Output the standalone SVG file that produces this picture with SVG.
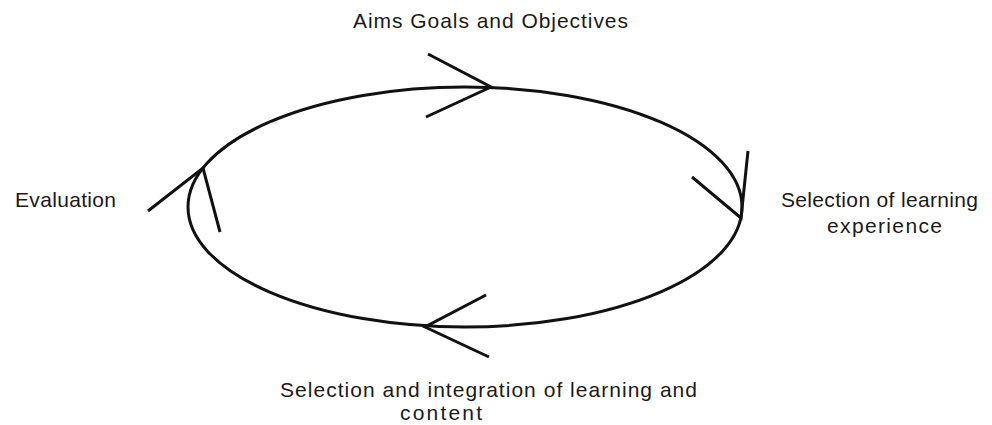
<svg xmlns="http://www.w3.org/2000/svg" width="992" height="425" viewBox="0 0 992 425">
<style>
.l{font-family:"Liberation Sans",Arial,sans-serif;font-size:21px;fill:#1a1a1a}
.s{fill:none;stroke:#111;stroke-width:3;stroke-linecap:butt}
</style>
<rect width="992" height="425" fill="#fff"/>
<g id="connectors">
<ellipse class="s" cx="465" cy="207" rx="277" ry="120"/>
<polyline class="s" points="428,54 491,87 426,117"/>
<polyline class="s" points="692,177 741,218 748,151"/>
<polyline class="s" points="486,295 425,327 489,357"/>
<polyline class="s" points="148,211 203,168 220,232"/>
</g>
<g id="node-aims"><text class="l" x="353" y="28" textLength="275" lengthAdjust="spacing">Aims Goals and Objectives</text></g>
<g id="node-selection-experience">
<text class="l" x="781" y="207" textLength="197" lengthAdjust="spacing">Selection of learning</text>
<text class="l" x="827" y="233" textLength="115" lengthAdjust="spacing">experience</text>
</g>
<g id="node-selection-integration">
<text class="l" x="280" y="397" textLength="417" lengthAdjust="spacing">Selection and integration of learning and</text>
<text class="l" x="400" y="420" textLength="82" lengthAdjust="spacing">content</text>
</g>
<g id="node-evaluation"><text class="l" x="15" y="207" textLength="101" lengthAdjust="spacing">Evaluation</text></g>
</svg>
